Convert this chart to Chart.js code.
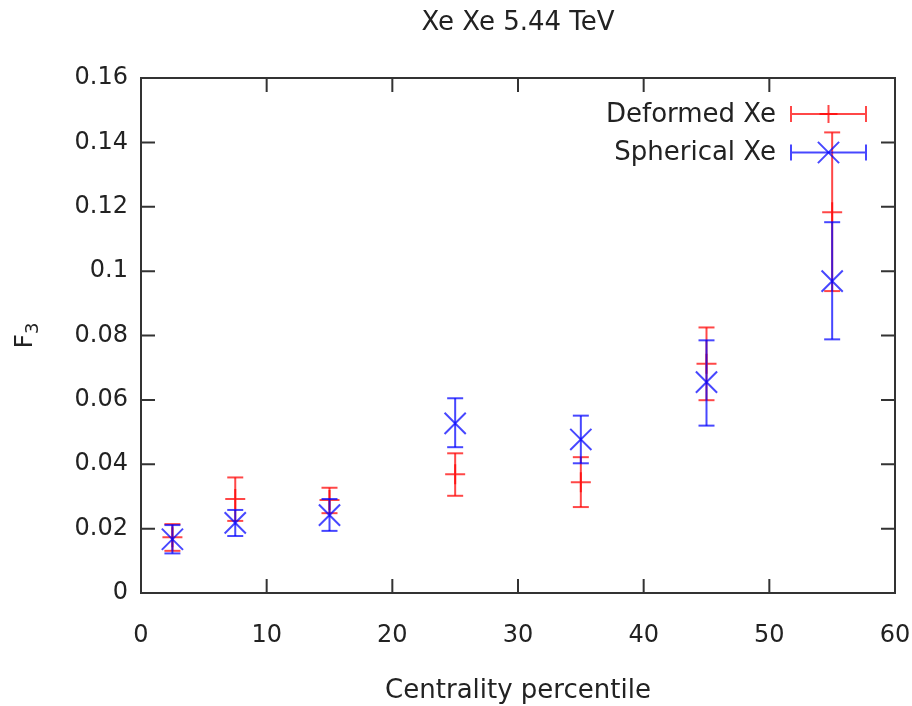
<!DOCTYPE html>
<html><head><meta charset="utf-8">
<script src="https://cdn.jsdelivr.net/npm/chart.js@4/dist/chart.umd.min.js"></script>
<style>html,body{margin:0;padding:0;background:#fff;overflow:hidden}</style>
</head><body>
<canvas id="c" width="912" height="706"></canvas>
<script>
const centrality = [2.5, 7.5, 15, 25, 35, 45, 55];
const deformed = [0.0173, 0.0292, 0.0289, 0.0369, 0.0344, 0.0712, 0.1183];
const deformedLow = [0.0131, 0.0224, 0.0248, 0.0302, 0.0267, 0.0599, 0.0938];
const deformedHigh = [0.0214, 0.0359, 0.0327, 0.0434, 0.0422, 0.0825, 0.1431];
const spherical = [0.0167, 0.0218, 0.0242, 0.0527, 0.0477, 0.0655, 0.0969];
const sphericalLow = [0.0123, 0.0177, 0.0193, 0.0453, 0.0403, 0.0520, 0.0788];
const sphericalHigh = [0.0211, 0.0258, 0.0292, 0.0605, 0.0551, 0.0785, 0.1152];
const xTickLabels = ['0', '10', '20', '30', '40', '50', '60'];
const yTickLabels = ['0', '0.02', '0.04', '0.06', '0.08', '0.1', '0.12', '0.14', '0.16'];
const seriesNames = ['Deformed Xe', 'Spherical Xe'];
const titleText = 'Xe Xe 5.44 TeV';
const xTitle = 'Centrality percentile';
const yTitleMain = 'F';
const yTitleSub = '3';

const FONT = 'DejaVu Sans';
const TXT = '#222';
const RED = 'rgba(255,0,0,0.72)';
const BLUE = 'rgba(0,0,255,0.72)';

function errorBarPoints(xs, lo, hi) {
  const pts = [];
  xs.forEach((x, i) => { pts.push({x: x, y: lo[i]}, {x: x, y: hi[i]}, {x: x, y: null}); });
  return pts;
}
function centerPoints(xs, ys) { return xs.map((x, i) => ({x: x, y: ys[i]})); }

function barSet(label, data, color) {
  return {label: label, data: data, showLine: true, spanGaps: false,
    borderColor: color, borderWidth: 2, pointStyle: 'line', pointRadius: 8,
    pointBorderWidth: 2, pointBorderColor: color, pointBackgroundColor: color, pointHoverRadius: 8};
}
function markSet(label, data, color, style, r) {
  return {label: label, data: data, showLine: false, pointStyle: style, pointRadius: r,
    pointBorderWidth: 2, pointBorderColor: color, pointBackgroundColor: color, borderColor: color, pointHoverRadius: r};
}

const framePlugin = {
  id: 'frame',
  beforeDatasetsDraw(chart) {
    const ctx = chart.ctx, a = chart.chartArea, xs = chart.scales.x, ys = chart.scales.y;
    ctx.save();
    ctx.strokeStyle = '#333';
    ctx.lineWidth = 2;
    ctx.strokeRect(a.left, a.top, a.right - a.left, a.bottom - a.top);
    const L = 14;
    ctx.beginPath();
    xs.ticks.forEach(t => {
      const p = xs.getPixelForValue(t.value);
      if (p <= a.left + 1 || p >= a.right - 1) return;
      ctx.moveTo(p, a.bottom); ctx.lineTo(p, a.bottom - L);
      ctx.moveTo(p, a.top); ctx.lineTo(p, a.top + L);
    });
    ys.ticks.forEach(t => {
      const p = ys.getPixelForValue(t.value);
      if (p <= a.top + 1 || p >= a.bottom - 1) return;
      ctx.moveTo(a.left, p); ctx.lineTo(a.left + L, p);
      ctx.moveTo(a.right, p); ctx.lineTo(a.right - L, p);
    });
    ctx.stroke();
    // y axis title with subscript
    const cy = (a.top + a.bottom) / 2;
    ctx.translate(23, cy);
    ctx.rotate(-Math.PI / 2);
    ctx.fillStyle = TXT;
    ctx.textBaseline = 'alphabetic';
    ctx.textAlign = 'left';
    ctx.font = '25px "' + FONT + '"';
    const wF = ctx.measureText(yTitleMain).width;
    ctx.font = '18px "' + FONT + '"';
    const w3 = ctx.measureText(yTitleSub).width;
    const x0 = -(wF + w3) / 2;
    ctx.font = '25px "' + FONT + '"';
    ctx.fillText(yTitleMain, x0, 9);
    ctx.font = '18px "' + FONT + '"';
    ctx.fillText(yTitleSub, x0 + wF, 15);
    ctx.restore();
  }
};

const legendPlugin = {
  id: 'gpLegend',
  afterDraw(chart) {
    const ctx = chart.ctx, a = chart.chartArea;
    const rows = [{name: seriesNames[0], color: RED, style: 'cross'},
                  {name: seriesNames[1], color: BLUE, style: 'crossRot'}];
    ctx.save();
    rows.forEach((r, k) => {
      const cy = a.top + 36 + k * 38.5;
      ctx.font = '26px "' + FONT + '"';
      ctx.fillStyle = TXT;
      ctx.textAlign = 'right';
      ctx.textBaseline = 'middle';
      ctx.fillText(r.name, a.right - 119, cy + 1);
      const x0 = a.right - 104, x1 = a.right - 29, xm = (x0 + x1) / 2;
      ctx.strokeStyle = r.color;
      ctx.lineWidth = 2;
      ctx.beginPath();
      ctx.moveTo(x0, cy); ctx.lineTo(x1, cy);
      ctx.moveTo(x0, cy - 8); ctx.lineTo(x0, cy + 8);
      ctx.moveTo(x1, cy - 8); ctx.lineTo(x1, cy + 8);
      ctx.stroke();
      ctx.beginPath();
      if (r.style === 'cross') {
        ctx.moveTo(xm, cy - 9); ctx.lineTo(xm, cy + 9);
        ctx.moveTo(xm - 9, cy); ctx.lineTo(xm + 9, cy);
      } else {
        const d = 10.6;
        ctx.moveTo(xm - d, cy - d); ctx.lineTo(xm + d, cy + d);
        ctx.moveTo(xm - d, cy + d); ctx.lineTo(xm + d, cy - d);
      }
      ctx.stroke();
    });
    ctx.restore();
  }
};

new Chart(document.getElementById('c'), {
  type: 'scatter',
  data: {
    datasets: [
      markSet(seriesNames[1], centerPoints(centrality, spherical), BLUE, 'crossRot', 15),
      barSet(seriesNames[1] + ' error', errorBarPoints(centrality, sphericalLow, sphericalHigh), BLUE),
      markSet(seriesNames[0], centerPoints(centrality, deformed), RED, 'cross', 10),
      barSet(seriesNames[0] + ' error', errorBarPoints(centrality, deformedLow, deformedHigh), RED)
    ]
  },
  options: {
    responsive: false,
    devicePixelRatio: 1,
    animation: false,
    events: [],
    layout: {padding: {left: 0, right: 15, top: 0, bottom: 0}},
    plugins: {
      legend: {display: false},
      tooltip: {enabled: false},
      title: {display: true, text: titleText, fullSize: false, color: TXT,
        font: {family: FONT, size: 26, weight: 'normal', lineHeight: 1.2}, padding: {top: 7.4, bottom: 39.4}}
    },
    scales: {
      x: {
        type: 'linear', min: 0, max: 60,
        grid: {display: false, drawTicks: false}, border: {display: false},
        ticks: {stepSize: 10, autoSkip: false, maxRotation: 0, padding: 28, color: TXT,
          font: {family: FONT, size: 24}, callback: (v, i) => xTickLabels[i]},
        title: {display: true, text: xTitle, color: TXT, font: {family: FONT, size: 26, lineHeight: 1.1}, padding: {top: 0, bottom: 0}},
        afterFit(s) { s.height = 113; s.paddingLeft = 0; s.paddingRight = 0; }
      },
      y: {
        type: 'linear', min: 0, max: 0.16,
        grid: {display: false, drawTicks: false}, border: {display: false},
        ticks: {stepSize: 0.02, autoSkip: false, padding: 13, color: TXT,
          font: {family: FONT, size: 24}, callback: (v, i) => yTickLabels[i]},
        title: {display: false},
        afterFit(s) { s.width = 141; s.paddingTop = 0; s.paddingBottom = 0; }
      }
    }
  },
  plugins: [framePlugin, legendPlugin]
});
</script>
</body></html>
